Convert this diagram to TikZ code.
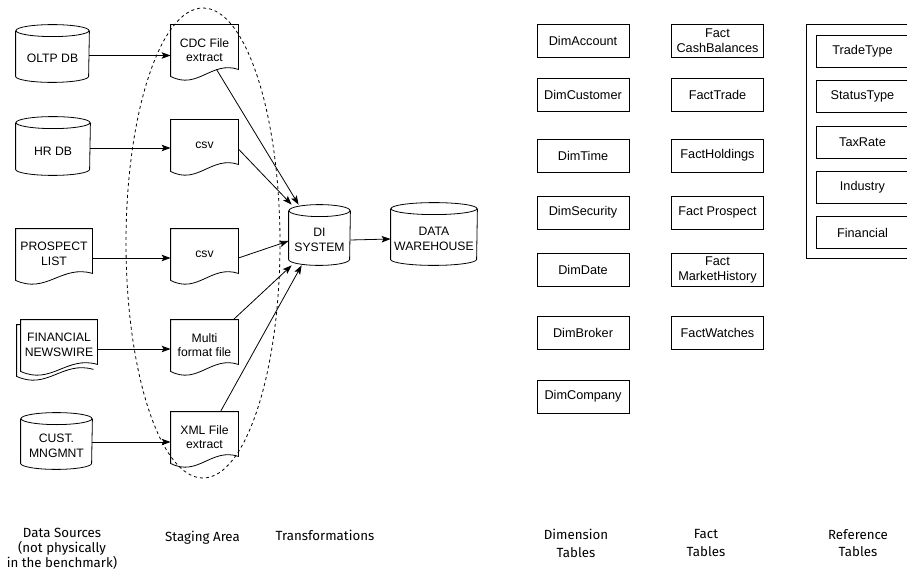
\documentclass[tikz,border=0pt]{standalone}
\usepackage{fontspec}
\setmainfont{Liberation Sans}
\newfontfamily\capfont{Fira Sans}
\usetikzlibrary{arrows.meta,calc}

\newcommand\dbdraw[2]{%
  \draw ([yshift=4pt]#1.north west) -- ([yshift=6pt]#1.south west)
    arc[start angle=180,end angle=360,x radius=#2,y radius=6pt]
    -- ([yshift=4pt]#1.north east);
  \draw ([yshift=4pt]#1.north) ellipse[x radius=#2,y radius=6pt];}
\newcommand\docdraw[1]{%
  \draw (#1.north west) -- (#1.north east) -- ([yshift=6pt]#1.south east)
    .. controls ($(#1.south west)!0.6!(#1.south east)+(0pt,15pt)$)
    and ($(#1.south west)!0.4!(#1.south east)+(0pt,-15pt)$) .. ([yshift=-1pt]#1.south west) -- cycle;}

\begin{document}
\begin{tikzpicture}[x=1pt,y=-1pt,line width=0.8pt,>={Stealth[length=9pt,width=6.5pt,inset=2pt]},
  db/.style={rectangle,inner sep=0pt,align=center,font=\fontsize{12.2}{14.5}\selectfont},
  doc/.style={rectangle,minimum width=67pt,minimum height=50pt,inner sep=0pt,align=center,font=\fontsize{12.2}{14.5}\selectfont},
  tbl/.style={rectangle,draw,minimum width=92pt,minimum height=33pt,inner sep=0pt,align=center,font=\fontsize{12.7}{15}\selectfont},
  captxt/.style={anchor=north,inner sep=0pt,align=center,font=\capfont\fontsize{13.3}{14.7}\selectfont}]

  \useasboundingbox (0,0) rectangle (907,575);
  \clip (0,0) rectangle (907,575);

  \node[db,minimum width=73pt,minimum height=47pt] (oltp) at (52.5,58.5) {OLTP DB};
  \node[db,minimum width=74pt,minimum height=48pt] (hr) at (53,151) {HR DB};
  \node[doc,minimum width=76pt] (prospect) at (54,254) {PROSPECT\\LIST};
  \node[doc,minimum width=76pt] (news) at (59,345) {FINANCIAL\\NEWSWIRE};
  \node[db,minimum width=71pt,minimum height=46pt] (cust) at (56.5,446) {CUST.\\MNGMNT};

  \node[doc] (cdc) at (204.5,50) {CDC File\\extract};
  \node[doc] (csva) at (204.5,145) {csv};
  \node[doc] (csvb) at (204.5,254) {csv};
  \node[doc] (multi) at (204.5,345) {Multi\\format file};
  \node[doc] (xml) at (204.5,437) {XML File\\extract};

  \node[db,minimum width=61pt,minimum height=50pt] (di) at (319.5,240) {DI\\SYSTEM};
  \node[db,minimum width=86pt,minimum height=52pt] (dw) at (434,239) {DATA\\WAREHOUSE};

  \dbdraw{oltp}{36.5pt}
  \dbdraw{hr}{37pt}
  \dbdraw{cust}{35.5pt}
  \dbdraw{di}{30.5pt}
  \dbdraw{dw}{43pt}
  \foreach \d in {prospect,news,cdc,csva,csvb,multi,xml} {\docdraw{\d}}
  \draw ([yshift=-5pt]news.north west) -- ++(-4pt,0) -- ([xshift=-4pt,yshift=-6pt]news.south west)
    .. controls ($(news.south west)!0.4!(news.south east)+(-4pt,-20pt)$)
    and ($(news.south west)!0.6!(news.south east)+(-4pt,10pt)$) .. ([xshift=-4pt,yshift=1pt]news.south east);

  \draw[dashed] (203,243) ellipse[x radius=77pt,y radius=235pt];

  \path[->]
    ([yshift=3pt]oltp.east) edge ([yshift=3pt]oltp.east -| cdc.west)
    ([yshift=3pt]hr.east) edge ([yshift=3pt]hr.east -| csva.west)
    ([yshift=-4pt]prospect.east) edge ([yshift=-4pt]prospect.east -| csvb.west)
    ([yshift=-4pt]news.east) edge ([yshift=-4pt]news.east -| multi.west)
    ([yshift=4pt]cust.east) edge ([yshift=4pt]cust.east -| xml.west)
    ([xshift=12pt,yshift=6pt]cdc.south) edge ([xshift=10pt,yshift=10pt]di.north west)
    ([yshift=-4pt]csva.east) edge ([xshift=3pt,yshift=10pt]di.north west)
    ([yshift=-4pt]csvb.east) edge ([yshift=-1pt]di.west)
    ([xshift=-5pt]multi.north east) edge ([xshift=3pt]di.south west)
    ([xshift=16pt]xml.north) edge ([xshift=13pt]di.south west)
    (di.east) edge (dw.west);

  \node[tbl] (dimaccount) at (583,41) {DimAccount};
  \node[tbl] (dimcustomer) at (583,94.5) {DimCustomer};
  \node[tbl] (dimtime) at (583,155.5) {DimTime};
  \node[tbl] (dimsecurity) at (583,212.5) {DimSecurity};
  \node[tbl] (dimdate) at (583,269.5) {DimDate};
  \node[tbl] (dimbroker) at (583,333) {DimBroker};
  \node[tbl] (dimcompany) at (583,396.5) {DimCompany};

  \node[tbl] (cashbal) at (717.5,41) {Fact\\CashBalances};
  \node[tbl] (facttrade) at (717.5,94.5) {FactTrade};
  \node[tbl] (factholdings) at (717.5,155.5) {FactHoldings};
  \node[tbl] (factprospect) at (717.5,212.5) {Fact Prospect};
  \node[tbl] (factmarket) at (717.5,269.5) {Fact\\MarketHistory};
  \node[tbl] (factwatches) at (717.5,333) {FactWatches};

  \draw (806,24) rectangle (925,258);
  \node[tbl,minimum height=32pt] (tradetype) at (862.5,51) {TradeType};
  \node[tbl,minimum height=32pt] (statustype) at (862.5,96.5) {StatusType};
  \node[tbl,minimum height=32pt] (taxrate) at (862.5,142) {TaxRate};
  \node[tbl,minimum height=32pt] (industry) at (862.5,187) {Industry};
  \node[tbl,minimum height=32pt] (financial) at (862.5,232.5) {Financial};

  \node[captxt] (capsrc) at (62,528) {Data Sources\\(not physically\\in the benchmark)};
  \node[captxt] (capstage) at (202.5,531) {Staging Area};
  \node[captxt] (captrans) at (325,530) {Transformations};
  \node[captxt,font=\capfont\fontsize{13.3}{17.5}\selectfont] (capdim) at (576,529) {Dimension\\Tables};
  \node[captxt,font=\capfont\fontsize{13.3}{17.5}\selectfont] (capfact) at (706,529) {Fact\\Tables};
  \node[captxt,font=\capfont\fontsize{13.3}{17.5}\selectfont] (capref) at (858,529) {Reference\\Tables};
\end{tikzpicture}
\end{document}
